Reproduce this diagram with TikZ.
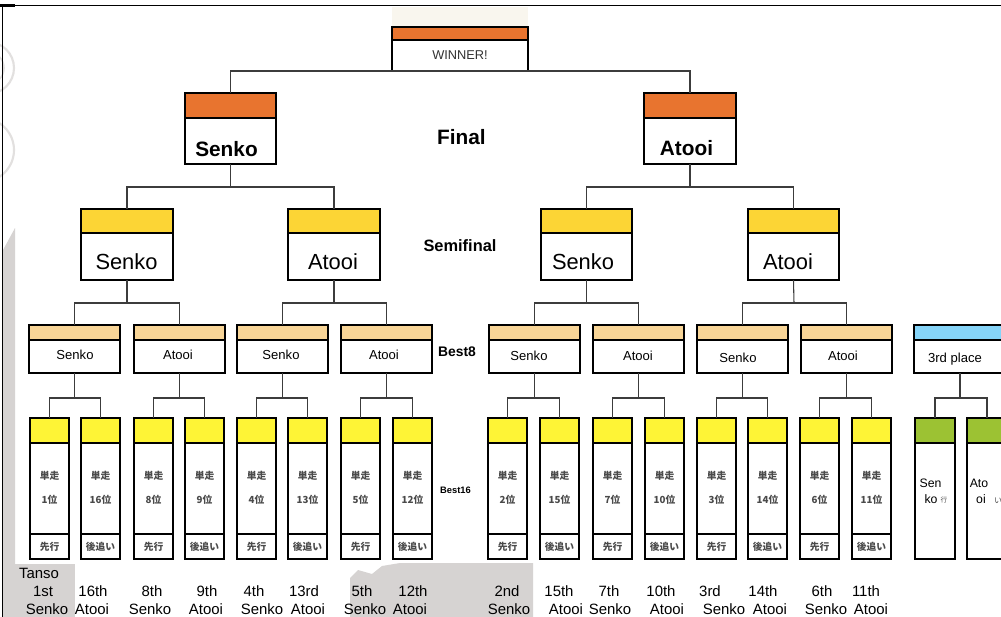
\documentclass[tikz,border=0pt]{standalone}
\usepackage{fontspec}
\setmainfont{Liberation Sans}
\newfontfamily\cjk{Noto Sans CJK JP}
\definecolor{cOrange}{HTML}{E8742F}
\definecolor{cSemi}{HTML}{FCD535}
\definecolor{cBeight}{HTML}{F8D597}
\definecolor{cBsixteen}{HTML}{FEF436}
\definecolor{cBlue}{HTML}{86D4F8}
\definecolor{cGreen}{HTML}{9CC233}
\definecolor{cGray}{HTML}{D6D3D2}
\definecolor{cLightGray}{HTML}{E2E0DF}
\definecolor{cBeige}{HTML}{F9F6EE}
\definecolor{cConn}{HTML}{3C3C3C}
\definecolor{cJp}{HTML}{4A4A4A}
\begin{document}
\begin{tikzpicture}[x=0.75pt,y=-0.75pt,
  tbox/.style n args={5}{draw=black, line width=1.8pt, fill=white, rectangle,
    anchor=north west, inner sep=0pt, outer sep=0pt,
    minimum width=#1*0.75pt, minimum height=#2*0.75pt,
    path picture={
      \fill[#4] (path picture bounding box.north west) rectangle
        ([yshift=-#3*0.75pt]path picture bounding box.north east);
      \draw[line width=0.9pt] ([yshift=-#3*0.75pt]path picture bounding box.north west) --
        ([yshift=-#3*0.75pt]path picture bounding box.north east);
      \draw[line width=1.1pt] ([yshift=#5*0.75pt]path picture bounding box.south west) --
        ([yshift=#5*0.75pt]path picture bounding box.south east);
    }},
  conn/.style={draw=cConn, line width=0.8pt},
  txt/.style={inner sep=0pt, outer sep=0pt, anchor=center},
  jp/.style={txt, font=\cjk\bfseries\fontsize{7.3pt}{8pt}\selectfont, text=cJp},
  lbl/.style={txt, font=\fontsize{11.2pt}{12pt}\selectfont, text=black},
]
\clip (0,0) rectangle (1001,617);
\fill[white] (0,0) rectangle (1001,617);
% ---------- background decoration ----------
\fill[cBeige] (392,7) rectangle (528,27);
\fill[cGray] (3,250) -- (15,228) -- (15,617) -- (3,617) -- cycle;
\fill[cGray] (15,564) rectangle (75,617);
\fill[cGray] (350,617) -- (350,578) -- (358,570) -- (372,574) -- (382,566) -- (400,563) -- (533,563) -- (533,617) -- cycle;
\draw[cLightGray, line width=1.6pt] (-12,68) circle (26);
\draw[cLightGray, line width=1.2pt] (-12,68) circle (16);
\draw[cLightGray, line width=1.6pt] (-18,150) circle (32);
\fill[black] (0,4.6) rectangle (1001,6.4);
\fill[black] (0,4.2) rectangle (15,6.8);
\fill[black] (1.6,5) rectangle (3.4,617);
% ---------- winner and final ----------
\node[tbox={136}{44}{13}{cOrange}{0}] (win) at (392,27) {};
\node[txt, font=\fontsize{9.6pt}{10pt}\selectfont, text=black!80] (wint) at (460,55) {WINNER!};
\node[tbox={91}{71}{25}{cOrange}{0}] (f1) at (185,93) {};
\node[tbox={92}{71}{25}{cOrange}{0}] (f2) at (644,93) {};
\node[txt, font=\bfseries\fontsize{15.6pt}{17pt}\selectfont] (f1t) at (226.5,149) {Senko};
\node[txt, font=\bfseries\fontsize{15.6pt}{17pt}\selectfont] (f2t) at (686.5,148) {Atooi};
\node[txt, font=\bfseries\fontsize{15.6pt}{17pt}\selectfont] (finl) at (461.5,137.5) {Final};
% ---------- semifinal ----------
\node[tbox={92}{71}{24}{cSemi}{0}] (s1) at (81,209) {};
\node[tbox={92}{71}{24}{cSemi}{0}] (s2) at (288,209) {};
\node[tbox={91}{71}{24}{cSemi}{0}] (s3) at (541,209) {};
\node[tbox={91}{71}{24}{cSemi}{0}] (s4) at (748,209) {};
\node[txt, font=\fontsize{16.4pt}{18pt}\selectfont] (s1t) at (126.5,261.5) {Senko};
\node[txt, font=\fontsize{16.4pt}{18pt}\selectfont] (s2t) at (333,261.5) {Atooi};
\node[txt, font=\fontsize{16.4pt}{18pt}\selectfont] (s3t) at (583,261.5) {Senko};
\node[txt, font=\fontsize{16.4pt}{18pt}\selectfont] (s4t) at (788,261.5) {Atooi};
\node[txt, font=\bfseries\fontsize{12.3pt}{13pt}\selectfont] (semil) at (460,246) {Semifinal};
% ---------- best 8 ----------
\foreach \x/\nm/\tx/\ty [count=\i] in {29/Senko/75/355, 134/Atooi/178/355, 237/Senko/281/355, 341/Atooi/384/355,
    489/Senko/529/356, 593/Atooi/638/356, 697/Senko/738/358, 801/Atooi/843/356} {
  \node[tbox={91}{48}{15}{cBeight}{0}] (e\i) at (\x,325) {};
  \node[txt, font=\fontsize{9.8pt}{11pt}\selectfont] (e\i t) at (\tx,\ty) {\nm};
}
\node[txt, font=\bfseries\fontsize{10.4pt}{11pt}\selectfont] (b8l) at (457,352) {Best8};
\node[tbox={92}{48}{15}{cBlue}{0}] (th) at (914,325) {};
\node[txt, font=\fontsize{9.8pt}{11pt}\selectfont, text depth=0pt] (tht) at (955,358) {3rd place};
% ---------- best 16 ----------
\foreach \x/\n/\r [count=\i] in {30/1/先行, 81/16/後追い, 134/8/先行, 185/9/後追い,
    237/4/先行, 288/13/後追い, 341/5/先行, 393/12/後追い,
    488/2/先行, 540/15/後追い, 593/7/先行, 645/10/後追い,
    697/3/先行, 748/14/後追い, 800/6/先行, 852/11/後追い} {
  \node[tbox={39}{141}{25}{cBsixteen}{25}] (b\i) at (\x,418) {};
  \node[jp] (b\i a) at (\x+19.5,476) {単走};
  \node[jp] (b\i b) at (\x+19.5,500) {\n 位};
  \node[jp] (b\i c) at (\x+19.5,546.5) {\r};
}
\node[txt, font=\bfseries\fontsize{7pt}{8pt}\selectfont] (b16l) at (455.5,490) {Best16};
\node[tbox={40}{141}{25}{cGreen}{0}] (g1) at (915,418) {};
\node[tbox={40}{141}{25}{cGreen}{0}] (g2) at (967,418) {};
\node[txt, font=\fontsize{9.2pt}{10pt}\selectfont] (g1a) at (930.5,483) {Sen};
\node[txt, font=\fontsize{9.2pt}{10pt}\selectfont] (g1b) at (931,499) {ko};
\node[txt, font=\cjk\fontsize{5pt}{6pt}\selectfont, text=cJp] (g1c) at (944,500) {行};
\node[txt, font=\fontsize{9.2pt}{10pt}\selectfont] (g2a) at (979,483) {Ato};
\node[txt, font=\fontsize{9.2pt}{10pt}\selectfont] (g2b) at (981,499) {oi};
\node[txt, font=\cjk\fontsize{6pt}{7pt}\selectfont, text=cJp] (g2c) at (998,501) {い};
% ---------- bottom labels ----------
\node[lbl] (tan) at (39,573) {Tanso};
\foreach \xa/\ra/\xb/\nb [count=\i] in {43/1st/47/Senko, 93/16th/92/Atooi, 152/8th/150/Senko, 207/9th/206/Atooi,
    254/4th/262/Senko, 304/13rd/308/Atooi, 362/5th/365/Senko, 413/12th/410/Atooi,
    507/2nd/509/Senko, 559/15th/566/Atooi, 609/7th/610/Senko, 661/10th/667/Atooi,
    710/3rd/724/Senko, 763/14th/770/Atooi, 822/6th/826/Senko, 866/11th/871/Atooi} {
  \node[lbl] (r\i) at (\xa,591.5) {\ra};
  \node[lbl] (n\i) at (\xb,609.5) {\nb};
}
% ---------- connectors ----------
\draw[conn] (f1.north) |- (win.south) -| (f2.north);
\coordinate (jf1) at (230.5,187);
\coordinate (jf2) at (690,187);
\draw[conn] (f1.south) -- (jf1);
\draw[conn] (s1.north) |- (jf1) -| (s2.north);
\draw[conn] (f2.south) -- (jf2);
\draw[conn] (s3.north) |- (jf2) -| (s4.north);
\foreach \s/\a/\b/\jx in {1/1/2/127, 2/3/4/334, 3/5/6/586.5, 4/7/8/794} {
  \coordinate (js\s) at (\jx,303);
  \draw[conn] (s\s.south) -- (js\s);
  \draw[conn] (e\a.north) |- (js\s) -| (e\b.north);
}
\foreach \e in {1,...,8} {
  \pgfmathtruncatemacro{\ba}{2*\e-1}
  \pgfmathtruncatemacro{\bb}{2*\e}
  \path (e\e.south) ++(0,25) coordinate (je\e);
  \draw[conn] (e\e.south) -- (je\e);
  \draw[conn] (b\ba.north) |- (je\e) -| (b\bb.north);
}
\path (th.south) ++(0,25) coordinate (jth);
\draw[conn] (th.south) -- (jth);
\draw[conn] (g1.north) |- (jth) -| (g2.north);
\end{tikzpicture}
\end{document}
